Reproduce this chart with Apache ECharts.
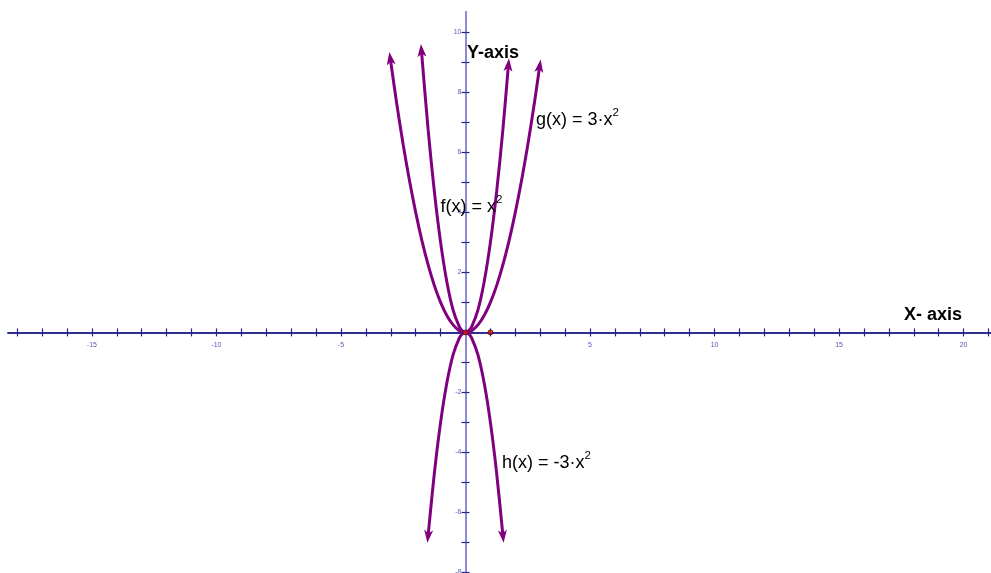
<!DOCTYPE html>
<html><head><meta charset="utf-8">
<script src="https://cdn.jsdelivr.net/npm/echarts@6/dist/echarts.min.js"></script>
<style>html,body{margin:0;padding:0;background:#fff}#c{width:991px;height:573px}</style>
</head><body><div id="c"></div>
<script>
// f(x) = x^2 (outer curve)
const fX = [-3.02, -2.75, -2.5, -2.25, -2, -1.75, -1.5, -1.25, -1, -0.75, -0.5, -0.25, 0, 0.25, 0.5, 0.75, 1, 1.25, 1.5, 1.75, 2, 2.25, 2.5, 2.75, 2.98];
const fY = [9.13, 7.56, 6.25, 5.06, 4, 3.06, 2.25, 1.56, 1, 0.56, 0.25, 0.06, 0, 0.06, 0.25, 0.56, 1, 1.56, 2.25, 3.06, 4, 5.06, 6.25, 7.56, 8.88];
// g(x) = 3x^2 (inner curve)
const gX = [-1.77, -1.5, -1.25, -1, -0.75, -0.5, -0.25, -0.125, 0, 0.125, 0.25, 0.5, 0.75, 1, 1.25, 1.5, 1.724];
const gY = [9.40, 6.75, 4.69, 3, 1.69, 0.75, 0.19, 0.05, 0, 0.05, 0.19, 0.75, 1.69, 3, 4.69, 6.75, 8.92];
// h(x) = -3x^2
const hX = [-1.505, -1.25, -1, -0.75, -0.5, -0.25, -0.125, 0, 0.125, 0.25, 0.5, 0.75, 1, 1.25, 1.505];
const hY = [-6.80, -4.69, -3, -1.69, -0.75, -0.19, -0.05, 0, -0.05, -0.19, -0.75, -1.69, -3, -4.69, -6.80];
// marked points
const dotX = [0, 1];
const dotY = [0, 0];
// ticks and labels
const xTicks = [-18,-17,-16,-15,-14,-13,-12,-11,-10,-9,-8,-7,-6,-5,-4,-3,-2,-1,1,2,3,4,5,6,7,8,9,10,11,12,13,14,15,16,17,18,19,20,21];
const xLabels = [-15, -10, -5, 5, 10, 15, 20];
const yTicks = [-8,-7,-6,-5,-4,-3,-2,-1,1,2,3,4,5,6,7,8,9,10];
const yLabels = [-8, -6, -4, -2, 2, 4, 6, 8, 10];
// texts
const fLabel = 'f(x) = x';
const gLabel = 'g(x) = 3·x';
const hLabel = 'h(x) = -3·x';
const supText = '2';
const xTitle = 'X- axis';
const yTitle = 'Y-axis';

const NAVY = '#22228c';
const LBL = '#5858b8';
const PURPLE = '#800080';
const FONT = '"Liberation Sans", Arial, sans-serif';
const ARROW = 'path://M5,0 L10,14 L5,10.5 L0,14 Z';

function xAx(inside, showLabel, off) {
  return {
    type: 'value', min: -18.37, max: 21.1, position: 'bottom', offset: off,
    axisLine: { show: true, onZero: false, lineStyle: { color: NAVY, width: 1.5 } },
    axisTick: { show: true, customValues: xTicks, length: 4, inside: inside, lineStyle: { color: NAVY, width: 1.2 } },
    axisLabel: { show: showLabel, customValues: xLabels, fontSize: 7, color: LBL, margin: 9, fontFamily: FONT },
    splitLine: { show: false }
  };
}
function yAx(inside, showLabel, off) {
  return {
    type: 'value', min: -8.02, max: 10.68, position: 'left', offset: off,
    axisLine: { show: true, onZero: false, lineStyle: { color: '#8c8cd2', width: 2 } },
    axisTick: { show: true, customValues: yTicks, length: 4, inside: inside, lineStyle: { color: NAVY, width: 1.2 } },
    axisLabel: { show: showLabel, customValues: yLabels, fontSize: 7, color: LBL, margin: 4, fontFamily: FONT },
    splitLine: { show: false }
  };
}

function buildData(xs, ys, rots) {
  return xs.map(function (x, i) {
    const item = { value: [x, ys[i]] };
    if (i === 0 || i === xs.length - 1) {
      item.symbol = ARROW;
      item.symbolSize = [9, 13];
      item.symbolKeepAspect = false;
      item.symbolRotate = rots ? (i === 0 ? rots[0] : rots[1]) : 0;
    }
    return item;
  });
}
function curve(id, xs, ys, rots) {
  return {
    id: id, type: 'line', xAxisIndex: 0, yAxisIndex: 0,
    data: buildData(xs, ys, rots), smooth: 0.3,
    symbol: 'circle', symbolSize: 0, showSymbol: true,
    lineStyle: { color: PURPLE, width: 3 }, itemStyle: { color: PURPLE },
    silent: true, animation: false, z: 3
  };
}
function richText(x, y, base) {
  return {
    type: 'text', x: x, y: y, z: 10,
    style: {
      text: '{a|' + base + '}{s|' + supText + '}',
      align: 'left', verticalAlign: 'middle', fill: '#000',
      rich: {
        a: { fontSize: 18, fontFamily: FONT, lineHeight: 22, verticalAlign: 'bottom', fill: '#000' },
        s: { fontSize: 11.5, fontFamily: FONT, lineHeight: 17, verticalAlign: 'top', fill: '#000' }
      }
    }
  };
}
function titleText(x, y, t) {
  return { type: 'text', x: x, y: y, z: 10,
    style: { text: t, align: 'left', verticalAlign: 'middle', fill: '#000', fontSize: 18, fontWeight: 'bold', fontFamily: FONT } };
}

const GL = 8, GT = 12, GW = 983, GH = 561;
const chart = echarts.init(document.getElementById('c'), null, { renderer: 'canvas' });
const option = {
  animation: false,
  backgroundColor: '#fff',
  grid: { left: GL, top: GT, width: GW, height: GH, containLabel: false, outerBoundsMode: 'none' },
  xAxis: [xAx(false, true, 0), xAx(true, false, 0)],
  yAxis: [yAx(false, true, 0), yAx(true, false, 0)],
  series: [
    curve('f', fX, fY, null),
    curve('g', gX, gY, null),
    curve('h', hX, hY, null),
    {
      id: 'dots', type: 'scatter', xAxisIndex: 0, yAxisIndex: 0,
      data: dotX.map(function (x, i) { return [x, dotY[i]]; }),
      symbolSize: 5, itemStyle: { color: '#e01010', borderColor: '#401010', borderWidth: 1 },
      silent: true, z: 5
    }
  ],
  graphic: [
    richText(440.5, 204.7, fLabel),
    richText(536, 117.7, gLabel),
    richText(502, 461, hLabel),
    titleText(904, 315.4, xTitle),
    titleText(467, 53, yTitle)
  ]
};
chart.setOption(option);

function endRots(xs, ys) {
  const n = xs.length;
  const a0 = chart.convertToPixel({ gridIndex: 0 }, [xs[0], ys[0]]);
  const a1 = chart.convertToPixel({ gridIndex: 0 }, [xs[1], ys[1]]);
  const b0 = chart.convertToPixel({ gridIndex: 0 }, [xs[n - 2], ys[n - 2]]);
  const b1 = chart.convertToPixel({ gridIndex: 0 }, [xs[n - 1], ys[n - 1]]);
  function ang(p, q) { const dx = q[0] - p[0], dy = q[1] - p[1]; return Math.atan2(-dx, -dy) * 180 / Math.PI; }
  return [ang(a1, a0), ang(b0, b1)];
}
const origin = chart.convertToPixel({ gridIndex: 0 }, [0, 0]);
const xOff = -((GT + GH) - origin[1]);
const yOff = -(origin[0] - GL);
chart.setOption({
  xAxis: [xAx(false, true, xOff), xAx(true, false, xOff)],
  yAxis: [yAx(false, true, yOff), yAx(true, false, yOff)],
  series: [
    curve('f', fX, fY, endRots(fX, fY)),
    curve('g', gX, gY, endRots(gX, gY)),
    curve('h', hX, hY, endRots(hX, hY))
  ]
});
</script></body></html>
